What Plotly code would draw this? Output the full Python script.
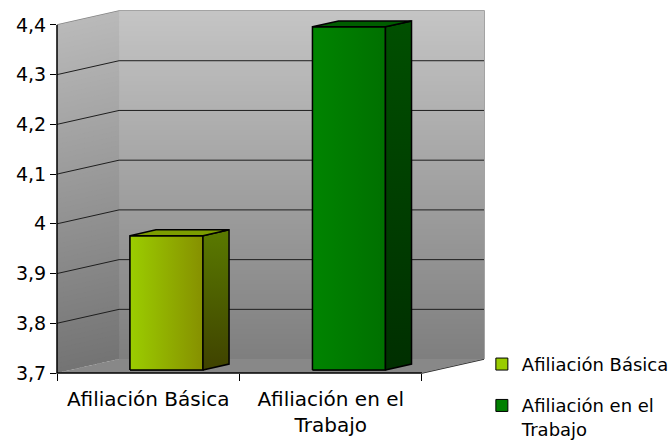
import plotly.graph_objects as go

# ---- data -------------------------------------------------------------
categories = ["Afiliación Básica", "Afiliación en el<br>Trabajo"]
values = [3.97, 4.39]
y_ticks = [3.7, 3.8, 3.9, 4.0, 4.1, 4.2, 4.3, 4.4]
y_tick_labels = ["3,7", "3,8", "3,9", "4", "4,1", "4,2", "4,3", "4,4"]

# ---- styling -----------------------------------------------------------
legend_colors = ["#99cc00", "#008000"]
front_grad = [("#9bcd00", "#869000"), ("#008400", "#007000")]
side_grad = [("#3f4200", "#5a7a00"), ("#002f00", "#004f00")]   # bottom -> top
top_colors = ["#7c9c00", "#005d00"]
FONT = "DejaVu Sans"

# 3-D box geometry (depth vector expressed in axis units)
Y0, Y1 = 3.7, 4.4
X0, X1 = -0.5, 1.5
DX, DY = 0.34, 0.028
BAR_OFF, BAR_W = -0.10, 0.40
RECESS, BAR_D = 0.22, 0.42

xr = [X0, X1 + DX]
yr = [Y0, Y1 + DY]


def px(x):
    return (x - xr[0]) / (xr[1] - xr[0])


def py(y):
    return (y - yr[0]) / (yr[1] - yr[0])


def mix(c0, c1, t):
    a = [int(c0[i:i + 2], 16) for i in (1, 3, 5)]
    b = [int(c1[i:i + 2], 16) for i in (1, 3, 5)]
    return "#" + "".join(f"{round(a[k] + (b[k] - a[k]) * t):02x}" for k in range(3))


def path_data(pts):
    return "M " + " L ".join(f"{x},{y}" for x, y in pts) + " Z"


def path_paper(pts, close=False):
    s = "M " + " L ".join(f"{px(x)},{py(y)}" for x, y in pts)
    return s + (" Z" if close else "")


shapes = []

# walls: banded vertical gradient
N = 70
step = (Y1 - Y0) / N
for i in range(N):
    ya = Y0 + i * step
    yb = min(ya + step * 1.6, Y1)
    t = (i + 0.5) / N
    back_c = mix("#7f7f7f", "#c4c4c4", t)
    left_c = mix("#747474", "#b9b9b9", t)
    shapes.append(dict(type="rect", xref="x", yref="y", layer="below",
                       x0=X0 + DX, x1=X1 + DX, y0=ya + DY, y1=yb + DY,
                       fillcolor=back_c, line=dict(width=0)))
    shapes.append(dict(type="path", xref="x", yref="y", layer="below",
                       path=path_data([(X0, ya), (X0 + DX, ya + DY),
                                       (X0 + DX, yb + DY), (X0, yb)]),
                       fillcolor=left_c, line=dict(width=0)))

# floor
shapes.append(dict(type="path", xref="x", yref="y", layer="below",
                   path=path_data([(X0, Y0), (X1, Y0), (X1 + DX, Y0 + DY), (X0 + DX, Y0 + DY)]),
                   fillcolor="#888888", line=dict(width=0)))

# gridlines across side wall and back wall
for v in y_ticks[1:-1]:
    shapes.append(dict(type="path", xref="x", yref="y", layer="below",
                       path="M " + " L ".join(f"{x},{y}" for x, y in
                                              [(X0, v), (X0 + DX, v + DY), (X1 + DX, v + DY)]),
                       line=dict(color="#1e1e1e", width=1)))

# wall edges
shapes.append(dict(type="path", xref="paper", yref="paper", layer="below",
                   path=path_paper([(X0 + DX, Y0 + DY), (X0 + DX, Y1 + DY)]),
                   line=dict(color="#8c8c8c", width=1.5)))
shapes.append(dict(type="path", xref="paper", yref="paper", layer="below",
                   path=path_paper([(X0 + DX, Y0 + DY), (X1 + DX, Y0 + DY)]),
                   line=dict(color="#a4a4a4", width=1)))
shapes.append(dict(type="path", xref="paper", yref="paper", layer="below",
                   path=path_paper([(X0, Y0), (X0 + DX, Y0 + DY)]),
                   line=dict(color="#a8a8a8", width=1, dash="dot")))
shapes.append(dict(type="path", xref="paper", yref="paper", layer="below",
                   path=path_paper([(X0, Y1), (X0 + DX, Y1 + DY), (X1 + DX, Y1 + DY), (X1 + DX, Y0 + DY)]),
                   line=dict(color="#858585", width=1.5)))
shapes.append(dict(type="path", xref="paper", yref="paper", layer="below",
                   path=path_paper([(X1, Y0), (X1 + DX, Y0 + DY)]),
                   line=dict(color="#2a2a2a", width=1.3)))
# front axes
shapes.append(dict(type="path", xref="paper", yref="paper", layer="above",
                   path=path_paper([(X0, Y1), (X0, Y0), (X1, Y0)]),
                   line=dict(color="#000000", width=1.5)))

fig = go.Figure()

# front faces of the columns (also feed the legend)
for i, (cat, v) in enumerate(zip(categories, values)):
    base = Y0 + RECESS * DY
    fig.add_trace(go.Bar(x=[i], y=[v - Y0], base=base, width=BAR_W, offset=BAR_OFF,
                         name=cat, legendgroup=f"g{i}",
                         marker=dict(color=legend_colors[i],
                                     line=dict(color="black", width=1)),
                         hoverinfo="skip"))

# shaded faces of the columns
for i, v in enumerate(values):
    xa = i + BAR_OFF
    xb = xa + BAR_W
    yb = Y0 + RECESS * DY
    yt = v + RECESS * DY
    ddx, ddy = BAR_D * DX, BAR_D * DY
    # front (gradient)
    fig.add_trace(go.Scatter(
        x=[xa, xb, xb, xa, xa], y=[yb, yb, yt, yt, yb], mode="lines", fill="toself",
        fillgradient=dict(type="horizontal", colorscale=[[0, front_grad[i][0]], [1, front_grad[i][1]]]),
        line=dict(color="black", width=1.5), showlegend=False, hoverinfo="skip"))
    # side
    fig.add_trace(go.Scatter(
        x=[xb, xb + ddx, xb + ddx, xb, xb], y=[yb, yb + ddy, yt + ddy, yt, yb],
        mode="lines", fill="toself",
        fillgradient=dict(type="vertical", colorscale=[[0, side_grad[i][0]], [1, side_grad[i][1]]]),
        line=dict(color="black", width=1.5), showlegend=False, hoverinfo="skip"))
    # top
    fig.add_trace(go.Scatter(
        x=[xa, xb, xb + ddx, xa + ddx, xa], y=[yt, yt, yt + ddy, yt + ddy, yt],
        mode="lines", fill="toself", fillcolor=top_colors[i],
        line=dict(color="black", width=1.5), showlegend=False, hoverinfo="skip"))

fig.update_layout(
    width=668, height=440,
    margin=dict(l=57, r=184, t=11, b=67, autoexpand=False),
    paper_bgcolor="white", plot_bgcolor="white",
    font=dict(family=FONT, color="black"),
    shapes=shapes,
    showlegend=True,
    legend=dict(x=0.995, xanchor="left", y=0.075, yanchor="top", valign="top",
                font=dict(size=18, family=FONT), itemwidth=30,
                tracegroupgap=15, bgcolor="rgba(0,0,0,0)"),
    xaxis=dict(range=xr, automargin=False, showgrid=False, zeroline=False, showline=False,
               tickvals=[0, 1], ticktext=categories, ticks="",
               tickfont=dict(size=20, family=FONT), ticklabelstandoff=12,
               minor=dict(tickvals=[X0, 0.5, X1], ticks="outside", ticklen=7,
                          tickcolor="black", tickwidth=1.3)),
    yaxis=dict(range=yr, automargin=False, showgrid=False, zeroline=False, showline=False,
               tickvals=y_ticks, ticktext=y_tick_labels, ticks="outside",
               ticklen=6, tickcolor="black", tickwidth=1.3,
               tickfont=dict(size=19, family=FONT)),
)

fig.write_html("out.html")
